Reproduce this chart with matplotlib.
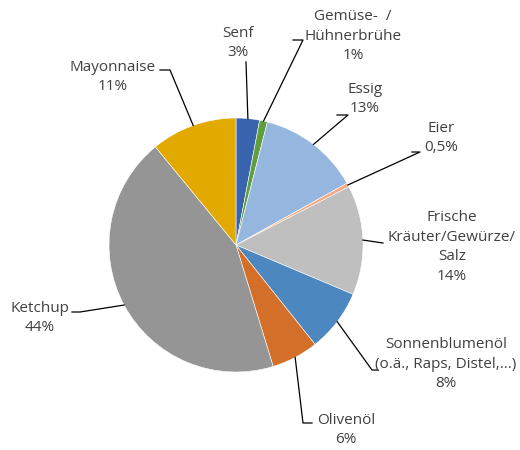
import numpy as np
import matplotlib
matplotlib.use("Agg")
import matplotlib.pyplot as plt

labels = ["Senf", "Gemüse-  /\nHühnerbrühe", "Essig", "Eier", "Frische\nKräuter/Gewürze/\nSalz",
          "Sonnenblumenöl\n(o.ä., Raps, Distel,...)", "Olivenöl", "Ketchup", "Mayonnaise"]
pct_text = ["3%", "1%", "13%", "0,5%", "14%", "8%", "6%", "44%", "11%"]
values = [3, 1, 13, 0.5, 14, 8, 6, 44, 11]
colors = ["#3A63AD", "#5E9E3F", "#95B7DF", "#F4A983", "#BFBFBF",
          "#4D87C0", "#D46F2A", "#959595", "#E2AA00"]

plt.rcParams['font.family'] = ['Open Sans', 'DejaVu Sans']

W, H = 520, 450
cx, cy, R = 236, 245, 127

fig = plt.figure(figsize=(W / 100, H / 100), dpi=100)
ax = fig.add_axes([0, 0, 1, 1])


def px(x, y):
    # pixel position -> data coords
    return (x - cx) / R, (cy - y) / R


wedges, _ = ax.pie(values, colors=colors, startangle=90, counterclock=False, radius=1,
                   wedgeprops=dict(edgecolor='white', linewidth=0.4))

ax.set_xlim(-cx / R, (W - cx) / R)
ax.set_ylim(-(H - cy) / R, cy / R)
ax.set_aspect('equal')
ax.axis('off')

# label text centre (px) and leader path near the text (px)
text_pos = [(238, 43), (353, 36), (365, 99), (441, 138), (452, 247),
            (446, 364), (346, 430), (40, 318), (113, 77)]
leader = [[(246, 62)], [(303, 40), (293, 40)], [(348, 115), (337, 115)], [(420, 152), (412, 152)],
          [(383, 243)], [(372, 370), (378, 370)], [(303, 423), (312, 423)],
          [(80, 312), (72, 312)], [(170, 70), (160, 70)]]

for i, w in enumerate(wedges):
    mid = np.deg2rad((w.theta1 + w.theta2) / 2)
    start = (np.cos(mid), np.sin(mid))
    pts = [start] + [px(*p) for p in leader[i]]
    ax.plot([p[0] for p in pts], [p[1] for p in pts], color='black', lw=0.9)
    tx, ty = px(*text_pos[i])
    ax.text(tx, ty, labels[i] + "\n" + pct_text[i], ha='center', va='center',
            fontsize=11, color='#404040', linespacing=1.4)

fig.savefig("out.png", dpi=100)
